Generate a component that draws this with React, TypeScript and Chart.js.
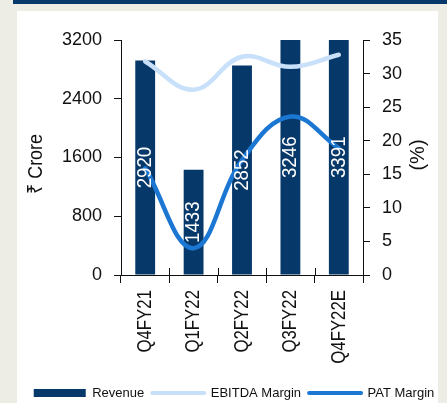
import React, { useEffect, useRef } from "react";
import { Chart, registerables } from "chart.js";

Chart.register(...registerables);

const categories = ["Q4FY21", "Q1FY22", "Q2FY22", "Q3FY22", "Q4FY22E"];
const revenue = [2920, 1433, 2852, 3246, 3391];
const ebitdaMargin = [31.8, 27.6, 32.5, 31.0, 32.8];
const patMargin = [15.9, 4.0, 17.1, 23.6, 18.9];
const leftTicks = [0, 800, 1600, 2400, 3200];
const rightTicks = [0, 5, 10, 15, 20, 25, 30, 35];
const seriesNames = ["Revenue", "EBITDA Margin", "PAT Margin"];
const leftTitle = "₹ Crore";
const rightTitle = "(%)";

const NAVY = "#06386A";
const LIGHT = "#C8E0F9";
const BLUE = "#1C77D3";
const INK = "#111111";
const REG = "'Liberation Sans', Arial, sans-serif";

const W = 447;
const H = 420;

// draw text rotated -90deg, horizontally condensed (along the text direction)
function drawRotated(ctx: any, text: string, x: number, y: number, align: string, squeeze: number) {
  ctx.save();
  ctx.translate(x, y);
  ctx.rotate(-Math.PI / 2);
  ctx.scale(squeeze, 1);
  ctx.textAlign = align;
  ctx.textBaseline = "middle";
  ctx.fillText(text, 0, 0);
  ctx.restore();
}

const backgroundPlugin = {
  id: "panelBg",
  beforeDraw(chart: any) {
    const { ctx, width, height } = chart;
    ctx.save();
    ctx.fillStyle = "#EDEDE5";
    ctx.fillRect(0, 0, width, height);
    ctx.fillStyle = "#FFFFFF";
    ctx.fillRect(17, 11, 421, height - 11);
    ctx.fillStyle = NAVY;
    ctx.fillRect(13, 0, width - 13, 4);
    ctx.restore();
  },
};

const decorPlugin = {
  id: "decor",
  afterDatasetsDraw(chart: any) {
    const { ctx, chartArea } = chart;
    const meta = chart.getDatasetMeta(0);
    ctx.save();
    ctx.fillStyle = "#FFFFFF";
    ctx.font = `21px ${REG}`;
    meta.data.forEach((el: any, i: number) => {
      const top = Math.max(el.y, chartArea.top);
      const cy = (top + el.base) / 2;
      drawRotated(ctx, String(revenue[i]), el.x, cy, "center", 0.89);
    });
    ctx.restore();
  },
  afterDraw(chart: any) {
    const { ctx, chartArea } = chart;
    const xs = chart.scales.x;
    const n = categories.length;
    const step = xs.width / n;
    ctx.save();
    ctx.strokeStyle = INK;
    ctx.lineWidth = 1;
    ctx.beginPath();
    for (let i = 1; i < n; i++) {
      const x = Math.round(xs.left + i * step) + 0.5;
      ctx.moveTo(x, chartArea.bottom - 7);
      ctx.lineTo(x, chartArea.bottom);
    }
    ctx.stroke();
    ctx.fillStyle = INK;
    // category labels
    ctx.font = `21px ${REG}`;
    categories.forEach((c, i) => {
      drawRotated(ctx, c, xs.getPixelForValue(i), chartArea.bottom + 15, "right", 0.8);
    });
    // axis titles
    ctx.font = `21px ${REG}`;
    drawRotated(ctx, leftTitle, 36, 164, "center", 0.85);
    ctx.font = `20px ${REG}`;
    drawRotated(ctx, rightTitle, 418, 155, "center", 1);
    ctx.restore();
  },
};

export default function App() {
  const ref = useRef<HTMLCanvasElement | null>(null);

  useEffect(() => {
    if (!ref.current) return;
    const chart = new Chart(ref.current, {
      type: "bar",
      data: {
        labels: categories,
        datasets: [
          {
            type: "bar",
            label: seriesNames[0],
            data: revenue,
            backgroundColor: NAVY,
            yAxisID: "y",
            barPercentage: 0.41,
            categoryPercentage: 1,
            order: 3,
          },
          {
            type: "line",
            label: seriesNames[1],
            data: ebitdaMargin,
            borderColor: LIGHT,
            backgroundColor: LIGHT,
            borderWidth: 4.5,
            borderCapStyle: "round",
            tension: 0.4,
            pointRadius: 0,
            fill: false,
            yAxisID: "y1",
            order: 2,
          },
          {
            type: "line",
            label: seriesNames[2],
            data: patMargin,
            borderColor: BLUE,
            backgroundColor: BLUE,
            borderWidth: 4.5,
            borderCapStyle: "round",
            tension: 0.4,
            pointRadius: 0,
            fill: false,
            yAxisID: "y1",
            order: 1,
          },
        ] as any,
      },
      options: {
        responsive: false,
        devicePixelRatio: 1,
        animation: false,
        events: [],
        layout: { padding: { left: 21, right: 0, top: 40, bottom: H - 409.5 } },
        plugins: {
          tooltip: { enabled: false },
          title: { display: false },
          legend: {
            display: true,
            position: "bottom",
            labels: {
              usePointStyle: true,
              pointStyleWidth: 52,
              padding: 8,
              color: INK,
              font: { family: REG, size: 13 },
              generateLabels: (c: any) =>
                c.data.datasets.map((ds: any, i: number) => ({
                  text: ds.label,
                  fillStyle: i === 0 ? ds.backgroundColor : ds.borderColor,
                  strokeStyle: i === 0 ? ds.backgroundColor : ds.borderColor,
                  lineWidth: i === 0 ? 8 : 4,
                  lineCap: i === 0 ? "butt" : "round",
                  pointStyle: "line",
                  fontColor: INK,
                  hidden: false,
                  datasetIndex: i,
                })),
            },
          },
        },
        scales: {
          x: {
            type: "category",
            offset: true,
            grid: {
              display: true,
              drawOnChartArea: false,
              drawTicks: true,
              tickLength: 8,
              color: INK,
              offset: true,
            },
            border: { display: true, color: INK, width: 1 },
            ticks: { display: false, autoSkip: false },
            afterFit: (s: any) => {
              s.height = 103.5;
            },
          },
          y: {
            type: "linear",
            position: "left",
            min: leftTicks[0],
            max: leftTicks[leftTicks.length - 1],
            afterBuildTicks: (s: any) => {
              s.ticks = leftTicks.map((v) => ({ value: v }));
            },
            ticks: {
              padding: 12,
              color: INK,
              font: { family: REG, size: 18 },
              callback: (v: any) => String(v),
            },
            grid: { drawOnChartArea: false, drawTicks: true, tickLength: 7, color: INK },
            border: { display: true, color: INK, width: 1 },
            afterFit: (s: any) => {
              s.width = 100;
            },
          },
          y1: {
            type: "linear",
            position: "right",
            min: rightTicks[0],
            max: rightTicks[rightTicks.length - 1],
            afterBuildTicks: (s: any) => {
              s.ticks = rightTicks.map((v) => ({ value: v }));
            },
            ticks: {
              padding: 12,
              color: INK,
              font: { family: REG, size: 18 },
              callback: (v: any) => String(v),
            },
            grid: { drawOnChartArea: false, drawTicks: true, tickLength: 7, color: INK },
            border: { display: true, color: INK, width: 1 },
            afterFit: (s: any) => {
              s.width = 84;
            },
          },
        },
      } as any,
      plugins: [backgroundPlugin, decorPlugin],
    });
    return () => chart.destroy();
  }, []);

  return (
    <div style={{ position: "fixed", left: 0, top: 0, width: W, height: H }}>
      <canvas ref={ref} width={W} height={H} style={{ display: "block", width: W, height: H }} />
    </div>
  );
}
